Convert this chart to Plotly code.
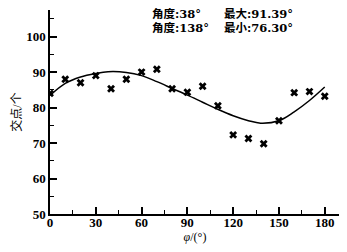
import plotly.graph_objects as go

# measured points
angles = [0, 10, 20, 30, 40, 50, 60, 70, 80, 90, 100, 110, 120, 130, 140, 150, 160, 170, 180]
counts = [84.0, 88.0, 87.0, 89.0, 85.3, 88.0, 90.0, 90.8, 85.3, 84.3, 86.0, 80.5, 72.3, 71.3, 69.8, 76.3, 84.2, 84.5, 83.2]

# fitted curve
curve_x = [0, 10, 20, 30, 38, 50, 60, 70, 80, 90, 100, 110, 120, 130, 138, 150, 160, 170, 180]
curve_y = [83.4, 86.8, 88.6, 89.6, 90.1, 89.9, 89.0, 87.3, 85.4, 83.5, 81.5, 79.5, 77.7, 76.3, 75.6, 76.3, 78.8, 82.0, 85.8]

x_ticks = [0, 30, 60, 90, 120, 150, 180]
y_ticks = [50, 60, 70, 80, 90, 100]

info_left = ["角度:38°", "角度:138°"]
info_right = ["最大:91.39°", "最小:76.30°"]

font_main = "Liberation Serif, Noto Sans CJK SC, serif"
font_info = "DejaVu Serif, Noto Sans CJK SC, serif"

fig = go.Figure()
fig.add_trace(go.Scatter(x=curve_x, y=curve_y, mode="lines",
                         line=dict(color="black", width=1.5, shape="spline", smoothing=1.0),
                         showlegend=False, hoverinfo="skip"))
fig.add_trace(go.Scatter(x=angles, y=counts, mode="markers",
                         marker=dict(symbol="x", size=7, color="black"),
                         showlegend=False))

fig.update_layout(
    width=339, height=244,
    margin=dict(l=42, r=7, t=2, b=38),
    paper_bgcolor="white", plot_bgcolor="white",
    font=dict(family=font_main, color="black", size=12),
    xaxis=dict(range=[0, 190], tickvals=x_ticks, ticks="inside", ticklen=7, tickwidth=1.5,
               tickcolor="black", showgrid=False, zeroline=False, showline=True,
               linecolor="black", linewidth=1.5, ticklabelstandoff=-4,
               minor=dict(dtick=15, tick0=0, ticks="inside", ticklen=4, tickcolor="black", tickwidth=1),
               tickfont=dict(family=font_main, size=13, color="black", weight="bold"),
               title=dict(text="<i>φ</i>/(°)", font=dict(family=font_main, size=12, color="black"), standoff=2)),
    yaxis=dict(range=[50, 107.5], tickvals=y_ticks, ticks="inside", ticklen=7, tickwidth=1.5,
               tickcolor="black", showgrid=False, zeroline=False, showline=True,
               linecolor="black", linewidth=1.5,
               minor=dict(dtick=5, tick0=50, ticks="inside", ticklen=4, tickcolor="black", tickwidth=1),
               tickfont=dict(family=font_main, size=13, color="black", weight="bold"),
               title=dict(text="交点/个", font=dict(family=font_main, size=12, color="black"), standoff=2)),
)

for i, (lt, rt) in enumerate(zip(info_left, info_right)):
    yy = [0.978, 0.910][i]
    fig.add_annotation(xref="paper", yref="paper", x=0.345, y=yy, xanchor="left", yanchor="middle",
                       text="<b>" + lt + "</b>", showarrow=False,
                       font=dict(family=font_info, size=11.5, color="black"))
    fig.add_annotation(xref="paper", yref="paper", x=0.593, y=yy, xanchor="left", yanchor="middle",
                       text="<b>" + rt + "</b>", showarrow=False,
                       font=dict(family=font_info, size=11.5, color="black"))

fig.write_html("out.html")
